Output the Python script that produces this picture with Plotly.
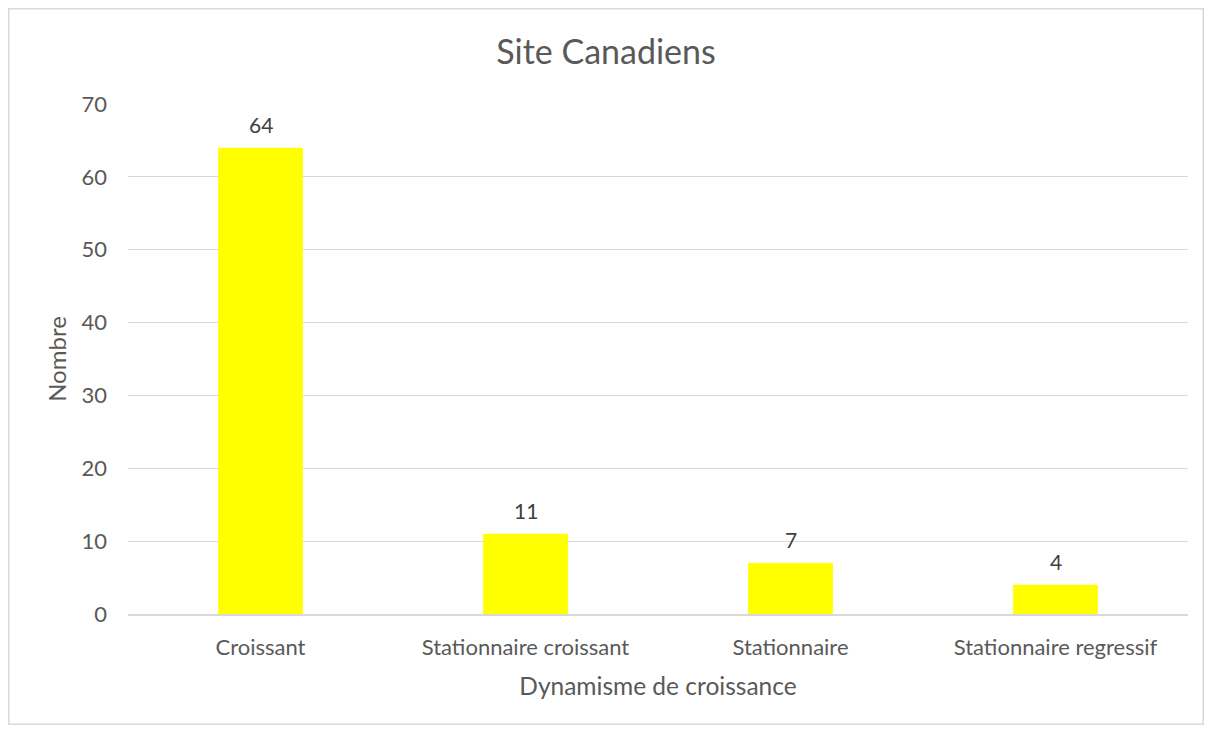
import plotly.graph_objects as go

# Data
categories = ["Croissant", "Stationnaire croissant", "Stationnaire", "Stationnaire regressif"]
counts = [64, 11, 7, 4]

TEXT_GREY = "#595959"
FONT = "Lato, Open Sans, sans-serif"

fig = go.Figure()

fig.add_trace(
    go.Bar(
        x=categories,
        y=counts,
        marker=dict(color="#FFFF00", line=dict(width=0)),
        width=0.32,
        hoverinfo="x+y",
    )
)

# value labels above each bar
for cat, val in zip(categories, counts):
    fig.add_annotation(
        x=cat, y=val,
        text=str(val),
        showarrow=False,
        yanchor="bottom",
        yshift=9,
        font=dict(size=21, color="#404040", family=FONT),
    )

# Light grey frame around the whole chart area (kept inside the figure)
fig.add_shape(
    type="rect",
    xref="paper", yref="paper",
    x0=-0.1125, x1=1.0144,
    y0=-0.2162, y1=1.1868,
    line=dict(color="#D9D9D9", width=1.5),
    fillcolor="rgba(0,0,0,0)",
    layer="below",
)

# page body adds an 8px margin, so the figure is a bit smaller than the window
fig.update_layout(
    width=1196,
    height=717,
    margin=dict(l=120, r=16, t=96, b=111),
    paper_bgcolor="white",
    plot_bgcolor="white",
    showlegend=False,
    bargap=0.68,
    font=dict(family=FONT, color=TEXT_GREY, size=22),
    title=dict(
        text="Site Canadiens",
        x=0.5,
        xanchor="center",
        y=0.939,
        yanchor="middle",
        font=dict(size=34, color=TEXT_GREY, family=FONT),
    ),
    xaxis=dict(
        title=dict(text="Dynamisme de croissance", font=dict(size=24.5, color=TEXT_GREY), standoff=19),
        showgrid=False,
        showline=True,
        linecolor="#D9D9D9",
        linewidth=1.5,
        ticks="",
        ticklabelstandoff=13,
        tickfont=dict(size=22, color=TEXT_GREY),
    ),
    yaxis=dict(
        title=dict(text="Nombre", font=dict(size=24, color=TEXT_GREY), standoff=8),
        range=[0, 70],
        dtick=10,
        showgrid=True,
        gridcolor="#D9D9D9",
        gridwidth=1.2,
        zeroline=False,
        showline=False,
        ticks="",
        ticklabelstandoff=20,
        tickfont=dict(size=22, color=TEXT_GREY),
    ),
)

fig.write_html("out.html")
